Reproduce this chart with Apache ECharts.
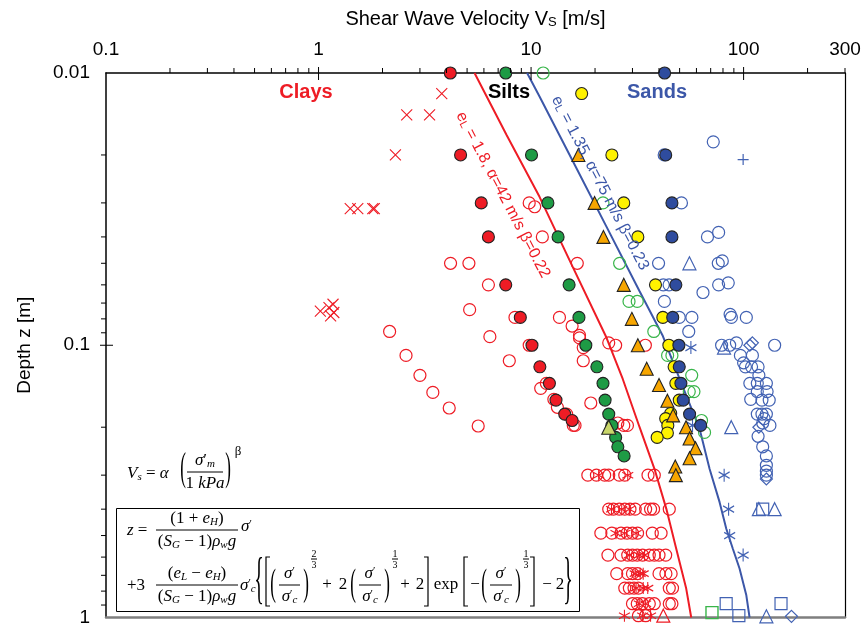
<!DOCTYPE html>
<html><head><meta charset="utf-8">
<script src="https://cdn.jsdelivr.net/npm/echarts@6/dist/echarts.min.js"></script>
<style>html,body{margin:0;padding:0;background:#fff}#c{width:864px;height:627px}</style>
</head><body><div id="c"></div>
<script>
// ---------- tick values ----------
const xMajorTicks = [1, 10, 100];
const xMinorTicks = [0.2,0.3,0.4,0.5,0.6,0.7,0.8,0.9,2,3,4,5,6,7,8,9,20,30,40,50,60,70,80,90,200,300];
const yMajorTicks = [0.1];
const yMinorTicks = [0.02,0.03,0.04,0.05,0.06,0.07,0.08,0.09,0.2,0.3,0.4,0.5,0.6,0.7,0.8,0.9];

// ---------- data [Vs (m/s), depth z (m)] ----------
const clayFilled = [[4.17,0.01],[4.66,0.02],[5.83,0.03],[6.3,0.04],[7.6,0.06],[8.9,0.079],[10.1,0.1],[11.0,0.12],[12.2,0.138],[13.1,0.159],[14.4,0.179],[15.6,0.189]];
const clayOpen = [[9.8,0.03],[10.4,0.031],[11.3,0.04],[4.18,0.05],[5.1,0.05],[16.5,0.05],[6.3,0.06],[5.14,0.074],[8.4,0.079],[13.6,0.079],[15.6,0.085],[2.16,0.089],[16.9,0.092],[6.4,0.093],[16.9,0.094],[23.2,0.098],[9.8,0.1],[25,0.1],[34.5,0.1],[17.6,0.102],[2.58,0.109],[7.9,0.114],[17.6,0.114],[3.0,0.129],[11.8,0.138],[11.1,0.144],[3.45,0.149],[12.8,0.158],[19.1,0.163],[13.3,0.169],[4.12,0.17],[14.7,0.179],[25.6,0.193],[15.8,0.197],[16.1,0.197],[27.3,0.197],[28.4,0.197],[5.64,0.198],
[18.5,0.3],[20.3,0.3],[22.2,0.3],[23.2,0.3],[26,0.3],[27.6,0.3],[35.5,0.3],[38,0.3],
[23.2,0.4],[24.4,0.4],[26,0.4],[27.6,0.4],[29.2,0.4],[30.9,0.4],[34.6,0.4],[36.5,0.4],[37.7,0.4],[44.7,0.4],
[21.3,0.49],[24,0.49],[26.5,0.49],[28.3,0.49],[30,0.49],[31.7,0.49],[37.2,0.49],[40.9,0.49],
[23,0.59],[26.5,0.59],[28.5,0.59],[30,0.59],[31.6,0.59],[33.5,0.59],[36,0.59],[38,0.59],[40,0.59],[43,0.59],
[25.3,0.69],[28.5,0.69],[30,0.69],[31.7,0.69],[40,0.69],[43.1,0.69],[45.6,0.69],
[27.6,0.78],[29,0.78],[30.5,0.78],[32,0.78],[44.7,0.78],[46.3,0.78],
[30,0.89],[31.6,0.89],[33.4,0.89],[36,0.89],[38,0.89],[44.7,0.89],[46,0.89],
[32,0.985],[34.6,0.985]];
const clayStar = [[20.8,0.3],[28.5,0.3],[23.9,0.4],[26.7,0.4],[29,0.4],[25.1,0.49],[27.5,0.49],[31.2,0.49],[29,0.59],[32.3,0.59],[34.2,0.59],[30.9,0.69],[32.6,0.69],[33.7,0.69],[31.2,0.78],[33.7,0.78],[35.4,0.78],[32.3,0.89],[34.6,0.89],[27.5,0.985],[33.5,0.985],[36.5,0.985]];
const clayCross = [[3.8,0.0119],[2.6,0.01425],[3.33,0.01425],[2.3,0.02],[1.41,0.0315],[1.53,0.0315],[1.8,0.0315],[1.83,0.0315],[1.02,0.075],[1.12,0.0727],[1.17,0.0707],[1.18,0.0758],[1.14,0.078]];
const clayTri = [[41.9,0.985]];
const siltFilled = [[7.6,0.01],[10.05,0.02],[12,0.03],[13.4,0.04],[15.1,0.06],[16.8,0.079],[18.1,0.1],[20.4,0.12],[21.8,0.138],[22.3,0.159],[23.2,0.179],[24,0.197],[25,0.218],[25.6,0.236],[27.4,0.255]];
const siltOpen = [[11.4,0.01],[21.8,0.03],[26.1,0.05],[28.9,0.069],[31.6,0.069],[37.8,0.089],[43.9,0.109],[46,0.109],[57,0.129],[55.5,0.148],[58.4,0.148],[63.4,0.189],[65.5,0.209]];
const siltSquare = [[71,0.96]];
const yellowFilled = [[17.3,0.0119],[24,0.02],[27.3,0.03],[31.8,0.04],[38.5,0.06],[41.7,0.079],[44.5,0.1],[47.1,0.12],[48,0.138],[49.8,0.159],[45.4,0.178],[43,0.186],[44,0.197],[43.8,0.21],[39.2,0.218]];
const orangeTri = [[16.7,0.02],[19.9,0.03],[21.9,0.04],[27.3,0.06],[29.8,0.08],[31.8,0.1],[35,0.122],[40,0.14],[43.8,0.16],[46.6,0.181],[53.6,0.2],[55.7,0.22],[59.4,0.239],[55.7,0.26],[47.7,0.279],[48,0.3]];
const limeTri = [[23.2,0.2]];
const sandFilled = [[42.5,0.01],[43,0.02],[46,0.03],[46,0.04],[48,0.06],[46.4,0.079],[49.6,0.1],[49.8,0.12],[50.7,0.138],[52,0.159],[55.7,0.179],[62.8,0.197]];
const sandOpen = [[72,0.0179],[42.3,0.02],[51,0.03],[76.3,0.0385],[67.6,0.04],[79.4,0.049],[39.8,0.05],[76,0.05],[84.7,0.059],[41.9,0.06],[44.6,0.06],[76.3,0.06],[64.4,0.064],[42.4,0.069],[86.4,0.077],[49.8,0.079],[57.1,0.079],[87.6,0.079],[103,0.079],[55.2,0.089],[92.5,0.098],[78.8,0.1],[86,0.1],[140,0.1],[96.6,0.109],[110,0.109],[100,0.116],[102,0.12],[109,0.12],[117,0.12],[118,0.129],[107,0.138],[116,0.138],[128,0.138],[116,0.148],[129,0.148],[108,0.158],[122,0.159],[132,0.159],[116,0.179],[122,0.179],[128,0.179],[123,0.193],[125,0.186],[133,0.197],[117,0.216],[123,0.236],[128,0.255],[128,0.276],[128,0.29],[128,0.3]];
const sandTri = [[55.6,0.05],[80.9,0.102],[87.5,0.2],[118,0.4],[140,0.4],[128,0.99]];
const sandStar = [[56.5,0.102],[57.5,0.197],[81,0.3],[85,0.4],[86,0.5],[99.5,0.59]];
const sandPlus = [[99.5,0.0208]];
const sandSquare = [[123,0.4],[82.8,0.89],[95,0.985],[150,0.89]];
const sandDiamond = [[110,0.098],[107,0.1],[118,0.2],[128,0.31],[168,0.99]];
const clayCurve = [[5.42,0.01],[7.67,0.0169],[10.96,0.0285],[15.68,0.0514],[22.6,0.0935],[27,0.133],[32.4,0.2],[38.1,0.285],[43.3,0.399],[48.2,0.559],[53.7,0.783],[56.7,1]];
const sandCurve = [[9.58,0.01],[10.96,0.0122],[15.73,0.0211],[22.6,0.0366],[32.4,0.0633],[41.7,0.0925],[50,0.133],[62.1,0.203],[69.2,0.285],[77.1,0.377],[82.9,0.472],[89,0.559],[95.7,0.661],[103,0.829],[106.7,1]];

// ---------- styles ----------
const RED = '#ee1c25', BLUE = '#3c57a8', GREEN = '#1e9b45', GREEN_O = '#39b54a';
const SANS = "'Liberation Sans', Arial, sans-serif";
const SERIF = "'Liberation Serif','DejaVu Serif','Times New Roman',serif";
const STAR = 'path://M0,0L0,20M-8.66,5L8.66,15M-8.66,15L8.66,5';
const CROSS = 'path://M0,0L10,10M0,10L10,0';
const PLUS = 'path://M5,0L5,10M0,5L10,5';

function sc(data, symbol, size, fill, stroke, bw, z) {
  return {type:'scatter', data:data, symbol:symbol, symbolSize:size, clip:false, z:z,
    itemStyle:{color:fill, borderColor:stroke, borderWidth:bw, opacity:1},
    emphasis:{disabled:true}, silent:true};
}
function tickSeries(vals, axis, outLen, inLen) {
  return {type:'custom', clip:false, silent:true, z:10,
    data: vals.map(v => axis === 'x' ? [v, 0.01] : [0.1, v]),
    renderItem: function(params, api) {
      const p = api.coord([api.value(0), api.value(1)]);
      let shape;
      if (axis === 'x') { shape = {x1:p[0], y1:p[1]-outLen, x2:p[0], y2:p[1]+inLen}; }
      else { const x0 = params.coordSys.x; shape = {x1:x0-outLen, y1:p[1], x2:x0+inLen, y2:p[1]}; }
      return {type:'line', shape:shape, style:{stroke:'#000', lineWidth:1}};
    }};
}

// ---------- equation graphics ----------
const RICH = {
  i:{fontFamily:SERIF, fontStyle:'italic', fontSize:17, fill:'#000'},
  n:{fontFamily:SERIF, fontSize:17, fill:'#000'},
  sb:{fontFamily:SERIF, fontStyle:'italic', fontSize:11, verticalAlign:'bottom', fill:'#000'},
  sp:{fontFamily:SERIF, fontSize:11, verticalAlign:'top', fill:'#000'}
};
function tx(x, y, text, o) {
  o = o || {};
  return {type:'text', x:x, y:y, z:50, scaleY:o.sy||1, scaleX:o.sx||1,
    style:{text:text, rich:o.norich?undefined:RICH, fontFamily:SERIF, fontSize:o.fs||17,
      fontStyle:o.it?'italic':'normal', fill:'#000', align:o.al||'center', verticalAlign:'middle'}};
}
function hl(x1, x2, y) { return {type:'line', z:50, shape:{x1:x1, y1:y, x2:x2, y2:y}, style:{stroke:'#000', lineWidth:1}}; }
function br(x, y1, y2, dir) {
  return {type:'polyline', z:50, shape:{points:[[x+4*dir,y1],[x,y1],[x,y2],[x+4*dir,y2]]}, style:{stroke:'#000', lineWidth:1.2, fill:null}};
}
function sigGroup(xl, xr, yc, exp) {
  const cx = (xl + xr) / 2;
  return [
    tx(xl, yc, '(', {fs:17, sy:2.2, norich:true}),
    tx(cx, yc-11, '{i|σ}{sp|′}'),
    hl(xl+6, xr-6, yc),
    tx(cx, yc+12, '{i|σ}{sp|′}{sb|c}'),
    tx(xr, yc, ')', {fs:17, sy:2.2, norich:true}),
    tx(xr+8, yc-31, exp, {fs:10, norich:true}),
    hl(xr+5, xr+11, yc-26),
    tx(xr+8, yc-20, '3', {fs:10, norich:true})
  ];
}
const eqEls = [].concat(
  [
    tx(127, 474, '{i|V}{sb|s}{n| = }{i|α}', {al:'left'}),
    tx(183, 470, '(', {fs:17, sy:2.3, norich:true}),
    tx(205, 461, '{i|σ}{n|′}{sb|m}'),
    hl(187, 223, 472),
    tx(205, 484, '{n|1 }{i|kPa}'),
    tx(228, 470, ')', {fs:17, sy:2.3, norich:true}),
    tx(238, 452, 'β', {fs:13, norich:true}),
    {type:'rect', z:45, shape:{x:116.5, y:508.5, width:463, height:103}, style:{fill:'#fff', stroke:'#000', lineWidth:1}},
    tx(127, 531, '{i|z}{n| =}', {al:'left'}),
    tx(197, 519, '{n|(1 + }{i|e}{sb|H}{n|)}'),
    hl(156, 238, 530),
    tx(197, 542, '{n|(}{i|S}{sb|G}{n| − 1)}{i|ρ}{sb|w}{i|g}'),
    tx(241, 527, '{i|σ}{sp|′}', {al:'left'}),
    tx(127, 586, '{n|+3}', {al:'left'}),
    tx(197, 574, '{n|(}{i|e}{sb|L}{n| − }{i|e}{sb|H}{n|)}'),
    hl(156, 238, 585),
    tx(197, 597, '{n|(}{i|S}{sb|G}{n| − 1)}{i|ρ}{sb|w}{i|g}'),
    tx(240, 586, '{i|σ}{sp|′}{sb|c}', {al:'left'}),
    tx(259, 582, '{', {fs:20, sy:2.8, norich:true}),
    br(266, 557, 606, 1),
    tx(327, 585, '+'), tx(343, 585, '2'),
    tx(405, 585, '+'), tx(420, 585, '2'),
    br(428, 557, 606, -1),
    tx(446, 585, 'exp'),
    br(464, 557, 606, 1),
    tx(475, 585, '−'),
    br(534, 557, 606, -1),
    tx(547, 585, '−'), tx(560, 585, '2'),
    tx(568, 582, '}', {fs:20, sy:2.8, norich:true})
  ],
  sigGroup(273, 306, 585, '2'),
  sigGroup(353, 387, 585, '1'),
  sigGroup(484, 518, 585, '1')
);

const labelEls = [
  {type:'text', x:306, y:92, z:40, style:{text:'Clays', font:"bold 20px "+SANS, fill:RED, align:'center', verticalAlign:'middle'}},
  {type:'text', x:509, y:92, z:40, style:{text:'Silts', font:"bold 20px "+SANS, fill:'#000', align:'center', verticalAlign:'middle'}},
  {type:'text', x:657, y:92, z:40, style:{text:'Sands', font:"bold 20px "+SANS, fill:BLUE, align:'center', verticalAlign:'middle'}},
  {type:'text', x:503, y:195, z:40, rotation:-62.3*Math.PI/180,
    style:{text:'{t|e}{s|L}{t| = 1.8, α=42 m/s β=0.22}', align:'center', verticalAlign:'middle',
      rich:{t:{fontFamily:SANS, fontSize:16, fill:RED}, s:{fontFamily:SANS, fontSize:11, fill:RED, verticalAlign:'bottom'}}}},
  {type:'text', x:600, y:183, z:40, rotation:-62.6*Math.PI/180,
    style:{text:'{t|e}{s|L}{t| = 1.35, α=75 m/s β=0.23}', align:'center', verticalAlign:'middle',
      rich:{t:{fontFamily:SANS, fontSize:16, fill:BLUE}, s:{fontFamily:SANS, fontSize:11, fill:BLUE, verticalAlign:'bottom'}}}}
];

const fmt = v => String(+(+v).toPrecision(3));
const chart = echarts.init(document.getElementById('c'), null, {renderer:'canvas'});
chart.setOption({
  animation:false,
  backgroundColor:'#fff',
  grid:{left:106, right:19, top:73, bottom:8},
  xAxis:[
    {type:'log', logBase:10, min:0.1, max:300, position:'top',
      name:'{a|Shear Wave Velocity V}{s|S}{a| [m/s]}', nameLocation:'middle', nameGap:44,
      nameTextStyle:{rich:{a:{fontFamily:SANS, fontSize:20, color:'#000'}, s:{fontFamily:SANS, fontSize:13, color:'#000', verticalAlign:'bottom'}}},
      axisLine:{lineStyle:{color:'#000', width:1.5}}, axisTick:{show:false}, splitLine:{show:false}, minorTick:{show:false},
      axisLabel:{fontFamily:SANS, fontSize:19, color:'#000', margin:14, formatter:fmt}},
    {type:'log', logBase:10, min:0.1, max:300, position:'bottom',
      axisLine:{lineStyle:{color:'#7f7f7f', width:2.5}}, axisTick:{show:false}, axisLabel:{show:false}, splitLine:{show:false}}
  ],
  yAxis:[
    {type:'log', logBase:10, min:0.01, max:1, inverse:true, position:'left',
      name:'Depth z [m]', nameLocation:'middle', nameGap:72, nameRotate:90,
      nameTextStyle:{fontFamily:SANS, fontSize:19, color:'#000'},
      axisLine:{lineStyle:{color:'#000', width:1.5}}, axisTick:{show:false}, splitLine:{show:false},
      axisLabel:{fontFamily:SANS, fontSize:19, color:'#000', margin:16, formatter:fmt}},
    {type:'log', logBase:10, min:0.01, max:1, inverse:true, position:'right',
      axisLine:{lineStyle:{color:'#000', width:1.2}}, axisTick:{show:false}, axisLabel:{show:false}, splitLine:{show:false}}
  ],
  graphic:{elements: eqEls.concat(labelEls)},
  series:[
    tickSeries(xMinorTicks, 'x', 5, 0),
    tickSeries(xMajorTicks, 'x', 6, 7),
    tickSeries(yMinorTicks, 'y', 5, 0),
    tickSeries(yMajorTicks, 'y', 6, 7),
    {type:'line', data:clayCurve, symbol:'none', clip:true, z:3, silent:true, lineStyle:{color:RED, width:2}},
    {type:'line', data:sandCurve, symbol:'none', clip:true, z:3, silent:true, lineStyle:{color:BLUE, width:2}},
    sc(clayOpen, 'circle', 12, 'rgba(0,0,0,0)', RED, 1.2, 4),
    sc(clayStar, STAR, [11,12], 'rgba(0,0,0,0)', RED, 1.1, 4),
    sc(clayCross, CROSS, 11, 'rgba(0,0,0,0)', RED, 1.1, 4),
    sc(clayTri, 'triangle', 13, 'rgba(0,0,0,0)', RED, 1.2, 4),
    sc(siltOpen, 'circle', 12, 'rgba(0,0,0,0)', GREEN_O, 1.2, 4),
    sc(siltSquare, 'rect', 12, 'rgba(0,0,0,0)', GREEN_O, 1.4, 4),
    sc(sandOpen, 'circle', 12, 'rgba(0,0,0,0)', '#4262b3', 1.2, 4),
    sc(sandTri, 'triangle', 13, 'rgba(0,0,0,0)', '#4262b3', 1.2, 4),
    sc(sandStar, STAR, [11,13], 'rgba(0,0,0,0)', '#4262b3', 1.2, 4),
    sc(sandPlus, PLUS, 11, 'rgba(0,0,0,0)', '#4262b3', 1.2, 4),
    sc(sandSquare, 'rect', 12, 'rgba(0,0,0,0)', '#4262b3', 1.2, 4),
    sc(sandDiamond, 'diamond', 12, 'rgba(0,0,0,0)', '#4262b3', 1.2, 4),
    sc(clayFilled, 'circle', 12, RED, '#222', 1.1, 5),
    sc(siltFilled, 'circle', 12, GREEN, '#222', 1.1, 5),
    sc(yellowFilled, 'circle', 12, '#fff200', '#222', 1.1, 5),
    sc(orangeTri, 'triangle', 13, '#f7a600', '#222', 1.1, 5),
    sc(limeTri, 'triangle', 14, '#c9d66a', '#222', 1.1, 5),
    sc(sandFilled, 'circle', 12, '#2f4c9e', '#222', 1.1, 5)
  ]
});
</script></body></html>
